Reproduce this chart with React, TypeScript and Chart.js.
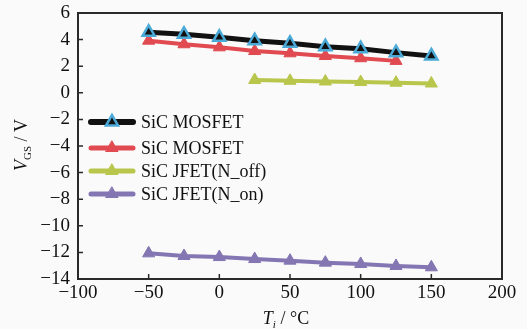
import React, { useEffect, useRef } from "react";
import { Chart, registerables } from "chart.js";

Chart.register(...registerables);

const temps = [-50, -25, 0, 25, 50, 75, 100, 125, 150];
const mosfetA = [4.55, 4.4, 4.17, 3.92, 3.72, 3.47, 3.32, 3.02, 2.77];
const mosfetB = [3.92, 3.65, 3.42, 3.14, 2.97, 2.77, 2.6, 2.4, null];
const jfetOff = [null, null, null, 0.96, 0.9, 0.85, 0.81, 0.76, 0.7];
const jfetOn = [-12.07, -12.27, -12.35, -12.5, -12.62, -12.77, -12.87, -13.02, -13.12];
const seriesNames = ["SiC MOSFET", "SiC MOSFET", "SiC JFET(N_off)", "SiC JFET(N_on)"];
const xTicks = [-100, -50, 0, 50, 100, 150, 200];
const yTicks = [6, 4, 2, 0, -2, -4, -6, -8, -10, -12, -14];

const SERIF = '"Liberation Serif", "Times New Roman", serif';

const styles = [
  { line: "#111111", fill: "#111111", stroke: "#4aa9d6", lw: 5 },
  { line: "#e04a50", fill: "#e04a50", stroke: "#e04a50", lw: 4 },
  { line: "#b9c64c", fill: "#b9c64c", stroke: "#b9c64c", lw: 4 },
  { line: "#8476b2", fill: "#8476b2", stroke: "#8476b2", lw: 4 },
];

const fmt = (v: number) => (v < 0 ? "\u2212" + Math.abs(v) : String(v));

function pts(vals: (number | null)[]) {
  return temps
    .map((t, i) => (vals[i] == null ? null : { x: t, y: vals[i] as number }))
    .filter((p) => p !== null) as { x: number; y: number }[];
}

function drawTri(ctx: CanvasRenderingContext2D, x: number, y: number, r: number, fill: string, stroke: string, lw: number) {
  ctx.beginPath();
  const h = r * 1.5;
  const w = r * Math.sqrt(3);
  ctx.moveTo(x, y - h * 2 / 3);
  ctx.lineTo(x + w / 2, y + h / 3);
  ctx.lineTo(x - w / 2, y + h / 3);
  ctx.closePath();
  ctx.fillStyle = fill;
  ctx.fill();
  ctx.lineWidth = lw;
  ctx.strokeStyle = stroke;
  ctx.lineJoin = "miter";
  ctx.stroke();
}

type Seg = { t: string; font: string; dy: number };
function drawSegs(ctx: CanvasRenderingContext2D, segs: Seg[], cx: number, baseY: number) {
  let total = 0;
  const ws = segs.map((s) => {
    ctx.font = s.font;
    const w = ctx.measureText(s.t).width;
    total += w;
    return w;
  });
  let x = cx - total / 2;
  ctx.textAlign = "left";
  ctx.textBaseline = "alphabetic";
  ctx.fillStyle = "#111";
  segs.forEach((s, i) => {
    ctx.font = s.font;
    ctx.fillText(s.t, x, baseY + s.dy);
    x += ws[i];
  });
}

const customPlugin = {
  id: "custom",
  beforeDraw(chart: any) {
    const ctx = chart.ctx;
    ctx.save();
    ctx.fillStyle = "#fafafa";
    ctx.fillRect(0, 0, chart.width, chart.height);
    ctx.restore();
  },
  afterDraw(chart: any) {
    const ctx: CanvasRenderingContext2D = chart.ctx;
    const a = chart.chartArea;
    const xs = chart.scales.x;
    const ys = chart.scales.y;
    ctx.save();
    // frame
    ctx.strokeStyle = "#2a2a2a";
    ctx.lineWidth = 2;
    ctx.strokeRect(a.left, a.top, a.right - a.left, a.bottom - a.top);
    // inward ticks
    ctx.lineWidth = 1.5;
    ctx.beginPath();
    xTicks.forEach((v) => {
      const px = xs.getPixelForValue(v);
      ctx.moveTo(px, a.bottom);
      ctx.lineTo(px, a.bottom - 5);
    });
    yTicks.forEach((v) => {
      const py = ys.getPixelForValue(v);
      ctx.moveTo(a.left, py);
      ctx.lineTo(a.left + 5, py);
    });
    ctx.stroke();

    // legend
    const rows = [122, 148, 171, 194];
    rows.forEach((ry, i) => {
      const s = styles[i];
      ctx.beginPath();
      ctx.lineCap = "round";
      ctx.strokeStyle = s.line;
      ctx.lineWidth = s.lw + 1;
      ctx.moveTo(91, ry);
      ctx.lineTo(133, ry);
      ctx.stroke();
      drawTri(ctx, 112, ry, 7, s.fill, s.stroke, i === 0 ? 2.5 : 1);
      ctx.font = "18px " + SERIF;
      ctx.fillStyle = "#111";
      ctx.textAlign = "left";
      ctx.textBaseline = "middle";
      ctx.fillText(seriesNames[i], 141, ry + 1);
    });

    // x title
    drawSegs(
      ctx,
      [
        { t: "T", font: "italic 18px " + SERIF, dy: 0 },
        { t: "i", font: "italic 11px " + SERIF, dy: 4 },
        { t: " / \u00B0C", font: "18px " + SERIF, dy: 0 },
      ],
      286,
      324
    );
    // y title
    ctx.save();
    ctx.translate(27, 145);
    ctx.rotate(-Math.PI / 2);
    drawSegs(
      ctx,
      [
        { t: "V", font: "italic 18px " + SERIF, dy: 0 },
        { t: "GS", font: "11px " + SERIF, dy: 4 },
        { t: " / V", font: "18px " + SERIF, dy: 0 },
      ],
      0,
      0
    );
    ctx.restore();
    ctx.restore();
  },
};

export default function App() {
  const ref = useRef<HTMLCanvasElement | null>(null);
  useEffect(() => {
    if (!ref.current) return;
    const all = [mosfetA, mosfetB, jfetOff, jfetOn];
    const datasets = all
      .map((vals, i) => ({
        label: seriesNames[i],
        data: pts(vals),
        borderColor: styles[i].line,
        backgroundColor: styles[i].fill,
        borderWidth: styles[i].lw,
        pointStyle: "triangle",
        pointRadius: 7,
        pointBackgroundColor: styles[i].fill,
        pointBorderColor: styles[i].stroke,
        pointBorderWidth: i === 0 ? 2.5 : 1,
        showLine: true,
        tension: 0,
        order: i === 0 ? 0 : i,
      }));
    const chart = new Chart(ref.current, {
      type: "scatter",
      data: { datasets: datasets as any },
      plugins: [customPlugin],
      options: {
        animation: false,
        responsive: false,
        events: [],
        layout: { padding: { left: 0, top: 13, right: 25, bottom: 0 } },
        plugins: { legend: { display: false }, tooltip: { enabled: false } },
        scales: {
          x: {
            type: "linear",
            min: -100,
            max: 200,
            afterBuildTicks: (s: any) => {
              s.ticks = xTicks.map((v) => ({ value: v }));
            },
            afterFit: (s: any) => {
              s.height = 50;
              s.paddingLeft = 0;
              s.paddingRight = 0;
            },
            grid: { display: false, drawTicks: false },
            border: { display: false },
            ticks: {
              color: "#111",
              font: { family: SERIF, size: 19 },
              padding: 3,
              maxRotation: 0,
              autoSkip: false,
              callback: (v: any) => fmt(Number(v)),
            },
          },
          y: {
            type: "linear",
            min: -14,
            max: 6,
            afterBuildTicks: (s: any) => {
              s.ticks = yTicks.map((v) => ({ value: v }));
            },
            afterFit: (s: any) => {
              s.width = 78;
              s.paddingTop = 0;
              s.paddingBottom = 0;
            },
            grid: { display: false, drawTicks: false },
            border: { display: false },
            ticks: {
              color: "#111",
              font: { family: SERIF, size: 19 },
              padding: 8,
              autoSkip: false,
              callback: (v: any) => fmt(Number(v)),
            },
          },
        },
      },
    });
    return () => chart.destroy();
  }, []);
  return (
    <div style={{ position: "fixed", left: 0, top: 0, width: 527, height: 329 }}>
      <canvas ref={ref} width={527} height={329} style={{ width: 527, height: 329, display: "block" }} />
    </div>
  );
}
